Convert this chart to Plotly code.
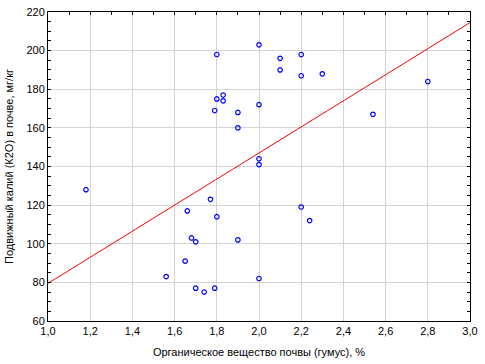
import plotly.graph_objects as go

# Data
humus = [1.18, 1.56, 1.65, 1.66, 1.68, 1.70, 1.70, 1.74, 1.77, 1.79, 1.79,
         1.80, 1.80, 1.80, 1.83, 1.83, 1.90, 1.90, 1.90,
         2.00, 2.00, 2.00, 2.00, 2.00, 2.10, 2.10, 2.20, 2.20, 2.20,
         2.24, 2.30, 2.54, 2.80]
potassium = [128, 83, 91, 117, 103, 101, 77, 75, 123, 77, 169,
             198, 175, 114, 177, 174, 168, 160, 102,
             203, 172, 144, 141, 82, 196, 190, 198, 187, 119,
             112, 188, 167, 184]
fit_x = [1.0, 3.0]
fit_y = [79.5, 214.5]

x_title = "Органическое вещество почвы (гумус), %"
y_title = "Подвижный калий (К2О) в почве, мг/кг"
x_ticks = [1.0, 1.2, 1.4, 1.6, 1.8, 2.0, 2.2, 2.4, 2.6, 2.8, 3.0]
x_tick_labels = ["1,0", "1,2", "1,4", "1,6", "1,8", "2,0", "2,2", "2,4", "2,6", "2,8", "3,0"]
y_ticks = [60, 80, 100, 120, 140, 160, 180, 200, 220]

font = "Liberation Sans, Arial, sans-serif"

fig = go.Figure()
fig.add_trace(go.Scatter(
    x=fit_x, y=fit_y, mode="lines",
    line=dict(color="#ff0000", width=1), hoverinfo="skip", showlegend=False))
fig.add_trace(go.Scatter(
    x=humus, y=potassium, mode="markers",
    marker=dict(symbol="circle-open", size=4.5, color="#0000ff",
                line=dict(width=1.2, color="#0000ff")),
    showlegend=False))
# invisible trace to anchor the top axis
fig.add_trace(go.Scatter(x=[1.0], y=[60], xaxis="x2", mode="markers",
                         marker=dict(opacity=0), hoverinfo="skip", showlegend=False))

fig.update_layout(
    width=485, height=364,
    margin=dict(l=47.5, r=15, t=11.7, b=43.3, autoexpand=False),
    paper_bgcolor="white", plot_bgcolor="white",
    font=dict(family=font, size=11, color="#000000"),
    xaxis=dict(
        range=[1.0, 3.0], tickvals=x_ticks, ticktext=x_tick_labels,
        showgrid=True, gridcolor="#d4d4d4", gridwidth=1,
        showline=True, linecolor="#000000", linewidth=1, mirror=True,
        ticks="", zeroline=False, automargin=False,
        title=dict(text=x_title, font=dict(size=11), standoff=12),
        tickfont=dict(size=11),
    ),
    xaxis2=dict(
        overlaying="x", side="top", range=[1.0, 3.0], dtick=0.1, tick0=1.0,
        ticks="inside", ticklen=3, tickcolor="#000000", showticklabels=False,
        showgrid=False, zeroline=False, showline=False, automargin=False,
    ),
    yaxis=dict(
        range=[60, 220], tickvals=y_ticks,
        showgrid=True, gridcolor="#d4d4d4", gridwidth=1,
        showline=True, linecolor="#000000", linewidth=1, mirror="allticks",
        ticks="inside", ticklen=3, tickcolor="#000000", zeroline=False,
        automargin=False,
        minor=dict(dtick=5, tick0=60, ticks="inside", ticklen=3, tickcolor="#000000", showgrid=False),
        title=dict(text=y_title, font=dict(size=11), standoff=10),
        tickfont=dict(size=11),
    ),
)

fig.write_html("out.html", config={"displayModeBar": False},
               post_script="document.body.style.margin='0';document.body.style.overflow='hidden';")
